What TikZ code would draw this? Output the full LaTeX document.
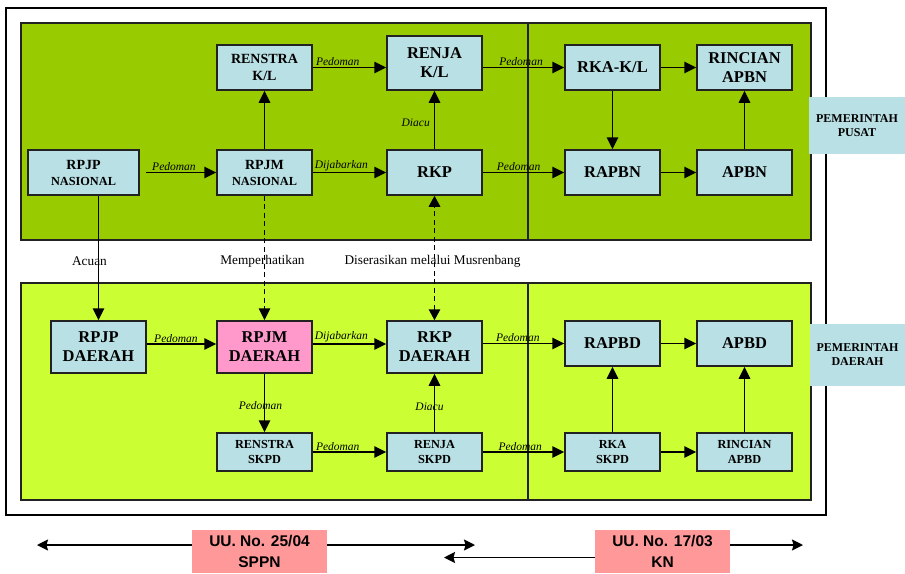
\documentclass[tikz,border=0pt]{standalone}
\usepackage{fontspec}
\setmainfont{Liberation Serif}
\newfontfamily\legendfont{Liberation Sans}
\usetikzlibrary{arrows.meta}
\definecolor{topgreen}{HTML}{99CC00}
\definecolor{botgreen}{HTML}{CCFF33}
\definecolor{boxblue}{RGB}{185,224,228}
\definecolor{boxpink}{HTML}{FF99CC}
\definecolor{legpink}{HTML}{FF9999}
\definecolor{edgegray}{HTML}{222222}
\tikzset{
  frame/.style={draw=black, line width=1.2pt},
  panel/.style={draw=edgegray, line width=1.2pt},
  box/.style={draw=edgegray, line width=1.5pt, fill=boxblue, inner sep=0pt,
    minimum width=95pt, align=center},
  sidebox/.style={fill=boxblue, inner sep=0pt, align=center,
    font=\bfseries\fontsize{12}{14}\selectfont},
  legbox/.style={fill=legpink, inner sep=0pt, minimum width=135pt, minimum height=43pt,
    align=center, font=\legendfont\bfseries\fontsize{15.5}{21}\selectfont},
  fxvi/.style={font=\bfseries\fontsize{16.5}{19}\selectfont},
  fxiv/.style={font=\bfseries\fontsize{14}{17}\selectfont},
  fxii/.style={font=\bfseries\fontsize{12.3}{15}\selectfont},
  conn/.style={line width=1.5pt, -{Triangle[length=12pt,width=11.5pt]}},
  dconn/.style={conn, dash pattern=on 5pt off 3.5pt},
  ddconn/.style={line width=1.5pt, dash pattern=on 5pt off 3.5pt,
    {Triangle[length=11pt,width=11.5pt]}-{Triangle[length=11pt,width=11.5pt]}},
  lbl/.style={font=\itshape\fontsize{11.5}{13}\selectfont, inner sep=1pt},
  midlbl/.style={font=\fontsize{13.3}{15}\selectfont, inner sep=0pt},
  legarrow/.style={line width=1.4pt, -{Stealth[length=11pt,width=11pt,inset=1.5pt]}}
}
\begin{document}
\begin{tikzpicture}[x=1pt,y=-1pt]
\useasboundingbox (0,0) rectangle (905,573);
% frame and panels
\draw[frame] (6,8) rectangle (826,515);
\filldraw[panel, fill=topgreen] (21,23) rectangle (811,240);
\draw[panel] (528,23) -- (528,240);
\filldraw[panel, fill=botgreen] (21,283) rectangle (811,500);
\draw[panel] (528,283) -- (528,500);

% top nodes
\node[box, fxiv, minimum height=45pt] (renstrakl) at (264.5,67.5) {RENSTRA\\K/L};
\node[box, fxvi, minimum height=54pt] (renjakl) at (434.5,63) {RENJA\\K/L};
\node[box, minimum width=111pt, minimum height=45pt, font=\bfseries\fontsize{14}{16}\selectfont] (rpjpnas) at (83.5,172.5) {RPJP\\{\fontsize{12.3}{14}\selectfont NASIONAL}};
\node[box, minimum height=45pt, font=\bfseries\fontsize{14}{16}\selectfont] (rpjmnas) at (264.5,172.5) {RPJM\\{\fontsize{12.3}{14}\selectfont NASIONAL}};
\node[box, fxvi, minimum height=45pt] (rkp) at (434.5,172.5) {RKP};
\node[box, fxvi, minimum height=45pt] (rkakl) at (612.5,67.5) {RKA-K/L};
\node[box, fxvi, minimum height=45pt] (rincianapbn) at (744.5,67.5) {RINCIAN\\APBN};
\node[box, fxvi, minimum height=45pt] (rapbn) at (612.5,172.5) {RAPBN};
\node[box, fxvi, minimum height=45pt] (apbn) at (744.5,172.5) {APBN};
\node[sidebox, minimum width=96pt, minimum height=57pt] (pusat) at (857,125.5) {PEMERINTAH\\PUSAT};

% bottom nodes
\node[box, fxvi, minimum height=52pt] (rpjpd) at (98.5,347) {RPJP\\DAERAH};
\node[box, fxvi, minimum height=52pt, fill=boxpink] (rpjmd) at (264.5,347) {RPJM\\DAERAH};
\node[box, fxvi, minimum height=52pt] (rkpd) at (434.5,347) {RKP\\DAERAH};
\node[box, fxvi, minimum height=45pt] (rapbd) at (612.5,343.5) {RAPBD};
\node[box, fxvi, minimum height=45pt] (apbd) at (744.5,343.5) {APBD};
\node[box, fxii, minimum height=38pt] (renstraskpd) at (264.5,452) {RENSTRA\\SKPD};
\node[box, fxii, minimum height=38pt] (renjaskpd) at (434.5,452) {RENJA\\SKPD};
\node[box, fxii, minimum height=38pt] (rkaskpd) at (612.5,452) {RKA\\SKPD};
\node[box, fxii, minimum height=38pt] (rincianapbd) at (744.5,452) {RINCIAN\\APBD};
\node[sidebox, minimum width=95pt, minimum height=62pt] (daerah) at (857.5,355) {PEMERINTAH\\DAERAH};

% top connectors
\draw[conn] ([xshift=6pt]rpjpnas.east) -- node[lbl, above, pos=0.40] {Pedoman} (rpjmnas.west);
\draw[conn] (rpjmnas.east) -- node[lbl, above, pos=0.39] {Dijabarkan} (rkp.west);
\draw[conn] (rkp.east) -- node[lbl, above, pos=0.44] {Pedoman} (rapbn.west);
\draw[conn] (rapbn.east) -- (apbn.west);
\draw[conn] (renstrakl.east) -- node[lbl, above, pos=0.34] {Pedoman} (renstrakl.east -| renjakl.west);
\draw[conn] (renjakl.east |- rkakl.west) -- node[lbl, above, pos=0.47] {Pedoman} (rkakl.west);
\draw[conn] (rkakl.east) -- (rincianapbn.west);
\draw[conn] (rpjmnas.north) -- (renstrakl.south);
\draw[conn] (rkp.north) -- node[lbl, left=3pt, pos=0.45] {Diacu} (renjakl.south);
\draw[conn] (rkakl.south) -- (rapbn.north);
\draw[conn] (apbn.north) -- (rincianapbn.south);

% between panels
\draw[conn] (rpjpnas.south -| rpjpd.north) -- node[midlbl, pos=0.524, xshift=-9pt] {Acuan} (rpjpd.north);
\draw[dconn] (rpjmnas.south) -- node[midlbl, pos=0.524, xshift=-2pt] {Memperhatikan} (rpjmd.north);
\draw[ddconn] (rkpd.north) -- node[midlbl, pos=0.476, xshift=-2pt] {Diserasikan melalui Musrenbang} (rkp.south);

% bottom connectors
\draw[conn] ([yshift=3pt]rpjpd.east) -- node[lbl, above, pos=0.42] {Pedoman} ([yshift=3pt]rpjmd.west);
\draw[conn] ([yshift=3pt]rpjmd.east) -- node[lbl, above, pos=0.39] {Dijabarkan} ([yshift=3pt]rkpd.west);
\draw[conn] (rkpd.east |- rapbd.west) -- node[lbl, above, pos=0.43] {Pedoman} (rapbd.west);
\draw[conn] (rapbd.east) -- (apbd.west);
\draw[conn] (rpjmd.south) -- node[lbl, pos=0.55, xshift=-4pt] {Pedoman} (renstraskpd.north);
\draw[conn] (renstraskpd.east) -- node[lbl, above, pos=0.34] {Pedoman} (renjaskpd.west);
\draw[conn] (renjaskpd.north) -- node[lbl, pos=0.43, xshift=-5pt] {Diacu} (rkpd.south);
\draw[conn] (renjaskpd.east) -- node[lbl, above, pos=0.46] {Pedoman} (rkaskpd.west);
\draw[conn] (rkaskpd.north) -- (rapbd.south);
\draw[conn] (rkaskpd.east) -- (rincianapbd.west);
\draw[conn] (rincianapbd.north) -- (apbd.south);

% legend
\node[legbox] (uu1) at (259.5,551.5) {UU. No. 25/04\\SPPN};
\node[legbox] (uu2) at (662.5,551.5) {UU. No. 17/03\\KN};
\coordinate (l1) at (37,545);
\coordinate (r1) at (475,545);
\coordinate (l2) at (444,557.5);
\coordinate (r2) at (803,545);
\draw[legarrow] (uu1.west |- l1) -- (l1);
\draw[legarrow] (uu1.east |- r1) -- (r1);
\draw[legarrow] (uu2.west |- l2) -- (l2);
\draw[legarrow] (uu2.east |- r2) -- (r2);
\end{tikzpicture}
\end{document}
